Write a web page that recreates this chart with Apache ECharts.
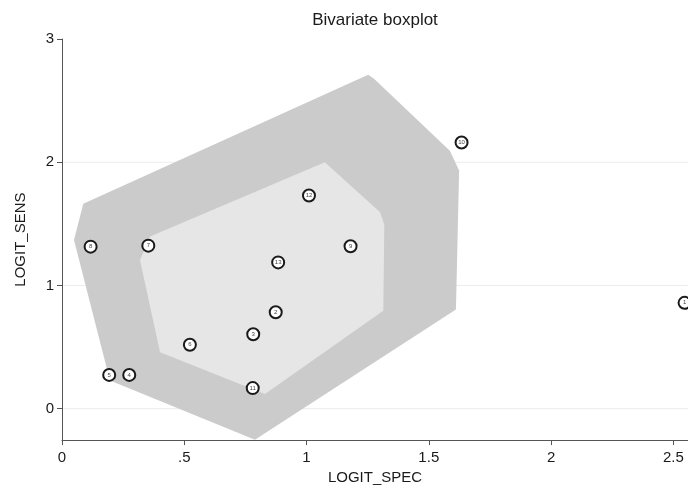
<!DOCTYPE html>
<html>
<head>
<meta charset="utf-8">
<script src="https://cdn.jsdelivr.net/npm/echarts@6/dist/echarts.min.js"></script>
<style>html,body{margin:0;padding:0;background:#fff}#c{width:688px;height:490px}</style>
</head>
<body>
<div id="c"></div>
<script>
// Study points
const pointLabels = ['1','2','3','4','5','6','7','8','9','10','11','12','13'];
const logitSpec   = [2.546,0.874,0.782,0.275,0.193,0.523,0.353,0.117,1.180,1.634,0.780,1.010,0.884];
const logitSens   = [0.859,0.782,0.604,0.274,0.274,0.519,1.323,1.315,1.318,2.160,0.167,1.730,1.187];
// Hull (fence) polygon
const outerHullX = [0.087,1.252,1.276,1.586,1.624,1.611,0.789,0.196,0.049];
const outerHullY = [1.664,2.709,2.677,2.093,1.932,0.805,-0.253,0.229,1.368];
// Bag (inner) polygon
const innerHullX = [1.075,1.300,1.318,1.314,0.830,0.401,0.319,0.360];
const innerHullY = [1.999,1.597,1.495,0.795,0.119,0.457,1.205,1.398];
// Axis ticks
const xTicks = [0,0.5,1,1.5,2,2.5];
const yTicks = [0,1,2,3];
const yGridLines = [0,1,2];

const FONT = 'Liberation Sans, Arial, sans-serif';
function hullSeries(xs, ys, color){
  const pts = xs.map((x,i)=>[x,ys[i]]);
  return {
    type:'custom', silent:true, z:1,
    data:[0],
    renderItem:(params, api)=>({
      type:'polygon',
      shape:{points: pts.map(p=>api.coord(p))},
      style:{fill:color, stroke:null}
    })
  };
}
const chart = echarts.init(document.getElementById('c'), null, {renderer:'canvas'});
chart.setOption({
  animation:false,
  backgroundColor:'#fff',
  title:{text:'Bivariate boxplot', left:370, top:7, textAlign:'center',
    textStyle:{fontFamily:FONT, fontSize:17, fontWeight:'normal', color:'#1a1a1a'}},
  grid:{left:62, right:0, top:39, bottom:46},
  xAxis:{type:'value', min:0, max:2.56,
    name:'LOGIT_SPEC', nameLocation:'middle', nameGap:29,
    nameTextStyle:{fontFamily:FONT, fontSize:15, color:'#1a1a1a'},
    axisLine:{onZero:false, lineStyle:{color:'#555', width:1}},
    axisTick:{customValues:xTicks, length:5, lineStyle:{color:'#555'}},
    axisLabel:{customValues:xTicks, fontFamily:FONT, fontSize:15, color:'#1a1a1a', margin:10,
      formatter:v=> v===0 ? '0' : String(v).replace(/^0\./,'.')},
    splitLine:{show:false}
  },
  yAxis:{type:'value', min:-0.255, max:3,
    name:'LOGIT_SENS', nameLocation:'middle', nameGap:34, nameRotate:90,
    nameTextStyle:{fontFamily:FONT, fontSize:15, color:'#1a1a1a'},
    axisLine:{show:true, onZero:false, lineStyle:{color:'#555', width:1}},
    axisTick:{show:true, customValues:yTicks, length:5, lineStyle:{color:'#555'}},
    axisLabel:{customValues:yTicks, fontFamily:FONT, fontSize:15, color:'#1a1a1a', margin:8},
    splitLine:{show:false}
  },
  series:[
    {
      type:'custom', silent:true, z:0,
      data: yGridLines,
      renderItem:(params, api)=>{
        const cs = params.coordSys;
        const y = api.coord([0, api.value(0)])[1];
        return {type:'line', shape:{x1:cs.x, y1:y, x2:cs.x+cs.width, y2:y},
          style:{stroke:'#ececec', lineWidth:1}};
      },
      encode:{y:0}
    },
    hullSeries(outerHullX, outerHullY, '#cbcbcb'),
    hullSeries(innerHullX, innerHullY, '#e6e6e6'),
    {
      type:'scatter', z:3,
      data: logitSpec.map((x,i)=>[x, logitSens[i], pointLabels[i]]),
      symbol:'circle', symbolSize:12,
      itemStyle:{color:'#ffffff', borderColor:'#1a1a1a', borderWidth:2, opacity:1},
      label:{show:true, position:'inside', formatter:p=>p.data[2],
        fontFamily:FONT, fontSize:6, color:'#444'}
    }
  ]
});
</script>
</body>
</html>
